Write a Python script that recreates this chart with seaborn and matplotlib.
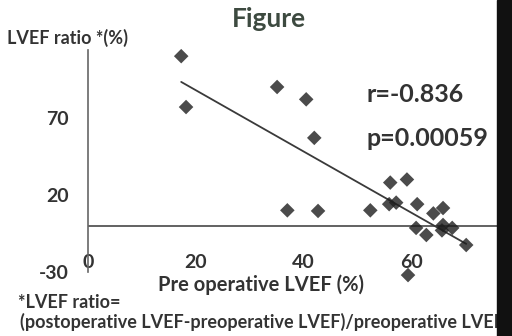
import matplotlib
matplotlib.use("Agg")
import matplotlib.pyplot as plt
import seaborn as sns
import pandas as pd
from matplotlib.patches import Rectangle

pre_lvef = [17.3, 18.2, 35.1, 40.5, 42.0, 37.0, 42.7, 52.4, 56.1, 59.2, 55.9, 57.2,
            61.1, 64.1, 65.9, 60.9, 62.8, 65.9, 67.6, 65.7, 70.2, 59.4]
lvef_ratio = [110, 77, 90, 82, 57, 10, 9.6, 10, 28, 30, 14, 15,
              14, 8, 11.5, -1.4, -6, 0.5, -1.4, -3, -12.5, -32]
x_ticks = [0, 20, 40, 60]
y_ticks = [70, 20, -30]

df = pd.DataFrame({"pre": pre_lvef, "ratio": lvef_ratio})

sns.set_theme(style="white")
plt.rcParams['font.family'] = ['Lato', 'DejaVu Sans']
plt.rcParams['axes.unicode_minus'] = False

W, H = 512, 336
fig = plt.figure(figsize=(5.12, 3.36), dpi=100)
ax = fig.add_axes([88/W, 1-272/H, 1-88/W, (272-50)/H])
sns.regplot(data=df, x="pre", y="ratio", ax=ax, ci=None, marker="D",
            scatter_kws=dict(s=55, color="#1e1e1e", edgecolor="none", clip_on=False, zorder=3),
            line_kws=dict(color="#3a3a3a", lw=1.3))
ax.set_xlim(0, 78.7)
ax.set_ylim(-30, 114)
ax.axhline(0, color="#555555", lw=1.3, zorder=1)
for s in ["top", "right", "bottom"]:
    ax.spines[s].set_visible(False)
ax.spines["left"].set_color("#666666")
ax.spines["left"].set_linewidth(1.2)
ax.set_xticks(x_ticks)
ax.set_yticks(y_ticks)
ax.tick_params(axis="x", length=0, pad=-13, labelsize=14, labelcolor="#333333")
ax.tick_params(axis="y", length=0, pad=14, labelsize=14, labelcolor="#333333")
for lab in ax.get_xticklabels() + ax.get_yticklabels():
    lab.set_fontweight("bold")
ax.set_xlabel("")
ax.set_ylabel("")

col = "#333333"
fig.text(269/W, 1-19/H, "Figure", ha="center", va="center", fontsize=19,
         color="#3d4a40", fontweight="bold")
fig.text(7/W, 1-38/H, "LVEF ratio *(%)", ha="left", va="center", fontsize=13,
         color=col, fontweight="bold")
fig.text(367/W, 1-94/H, "r=-0.836", ha="left", va="center", fontsize=18,
         color=col, fontweight="bold")
fig.text(367/W, 1-139/H, "p=0.00059", ha="left", va="center", fontsize=18,
         color=col, fontweight="bold")
fig.text(261/W, 1-285/H, "Pre operative LVEF (%)", ha="center", va="center",
         fontsize=14.5, color=col, fontweight="bold")
fig.text(18/W, 1-303/H, "*LVEF ratio=", ha="left", va="center", fontsize=13,
         color=col, fontweight="bold")
fig.text(20/W, 1-322/H, "(postoperative LVEF-preoperative LVEF)/preoperative LVEF",
         ha="left", va="center", fontsize=13, color=col, fontweight="bold")
fig.patches.append(Rectangle((497/W, 0), 15/W, 1, transform=fig.transFigure,
                             color="#111111", zorder=5))

fig.savefig("out.png", dpi=100)
